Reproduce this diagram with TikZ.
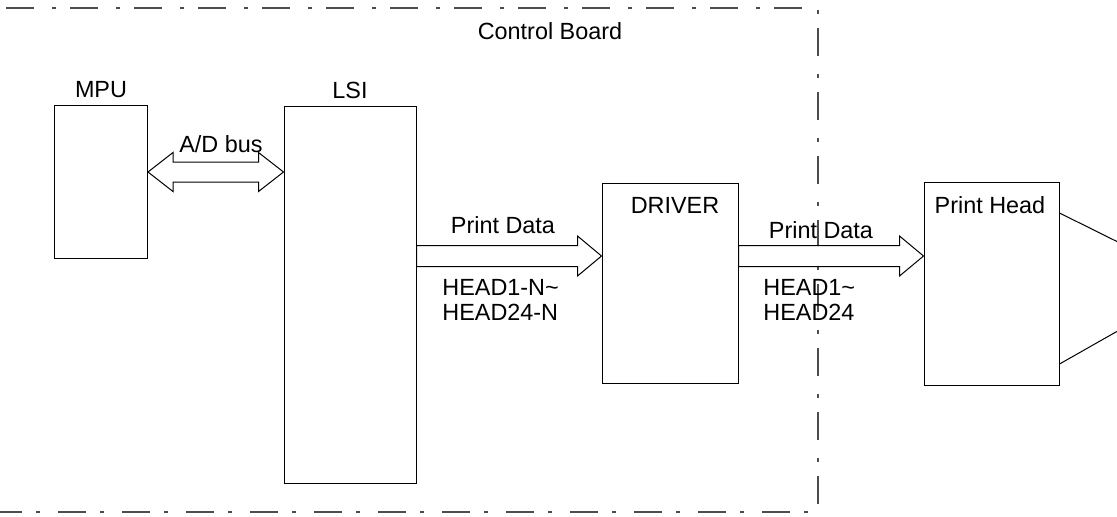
\documentclass[tikz,border=0pt]{standalone}
\usepackage{fontspec}
\setmainfont{Liberation Sans}
\usetikzlibrary{calc}
\tikzstyle{blockStyle}=[shape = rectangle, draw, inner sep = 0pt, line width = 0.5pt]
\tikzstyle{textStyle}=[inner sep = 0pt, font = \fontsize{11.7}{12.5}\selectfont]
\tikzstyle{arrowStyle}=[draw, fill = white, line width = 0.5pt, line join = miter]
\tikzstyle{boardStyle}=[draw = black!70, line width = 0.65pt, dash pattern = on 14pt off 9pt on 2pt off 7pt]

\begin{document}
\begin{tikzpicture}[x = 0.5pt, y = -0.5pt]
\useasboundingbox (0,0) rectangle (1117,516);
% Control board frame
\draw[boardStyle] (6,8) -- (818,8) -- (818,512) -- (-20,512);
\node[textStyle] (board) at (550,31) {Control Board};
% Blocks
\node[blockStyle, minimum width = 46.5pt, minimum height = 76.5pt] (mpu) at (101,181.5) {};
\node[blockStyle, minimum width = 66pt, minimum height = 188.5pt] (lsi) at (350,294.5) {};
\node[blockStyle, minimum width = 68pt, minimum height = 100pt] (drv) at (670,283) {};
\node[blockStyle, minimum width = 67.5pt, minimum height = 101.5pt] (head) at (991.5,284) {};
\node[textStyle] (mpuL) at (101,90) {MPU};
\node[textStyle] (lsiL) at (350,90) {LSI};
\node[textStyle] (drvL) at (675,205) {DRIVER};
\node[textStyle] (headL) at (990,205) {Print Head};
% A/D bus
\coordinate (busA) at (mpu.east |- 0,172);
\coordinate (busB) at (lsi.west |- 0,172);
\draw[arrowStyle] (busA) -- ($(busA)+(25,-19.5)$) -- ($(busA)+(25,-10)$) -- ($(busB)+(-25,-10)$)
  -- ($(busB)+(-25,-19.5)$) -- (busB) -- ($(busB)+(-25,19.5)$) -- ($(busB)+(-25,10)$)
  -- ($(busA)+(25,10)$) -- ($(busA)+(25,19.5)$) -- cycle;
\node[textStyle] (busL) at (221,144) {A/D bus};
% Print data, LSI to driver
\coordinate (pdA) at (lsi.east |- 0,256);
\coordinate (pdB) at (drv.west |- 0,256);
\draw[arrowStyle] ($(pdA)+(0,-10.5)$) -- ($(pdB)+(-24,-10.5)$) -- ($(pdB)+(-24,-20)$) -- (pdB)
  -- ($(pdB)+(-24,20)$) -- ($(pdB)+(-24,10.5)$) -- ($(pdA)+(0,10.5)$) -- cycle;
\node[textStyle] (pdL) at (503,225) {Print Data};
\node[textStyle, anchor = west, align = left] (pdN) at (442,299.5) {HEAD1-N\char`~\\HEAD24-N};
% Print data, driver to head
\coordinate (phA) at (drv.east |- 0,256);
\coordinate (phB) at (head.west |- 0,256);
\draw[arrowStyle] ($(phA)+(0,-10.5)$) -- ($(phB)+(-24,-10.5)$) -- ($(phB)+(-24,-20)$) -- (phB)
  -- ($(phB)+(-24,20)$) -- ($(phB)+(-24,10.5)$) -- ($(phA)+(0,10.5)$) -- cycle;
\node[textStyle] (phL) at (821,230) {Print Data};
\node[textStyle, anchor = west, align = left] (phN) at (763,299.5) {HEAD1\char`~\\HEAD24};
% Head outline
\coordinate (outA) at (1130,248);
\coordinate (outB) at (1130,324);
\draw[line width = 0.5pt] (head.east |- 0,213) -- (outA);
\draw[line width = 0.5pt] (head.east |- 0,364) -- (outB);
\end{tikzpicture}
\end{document}
